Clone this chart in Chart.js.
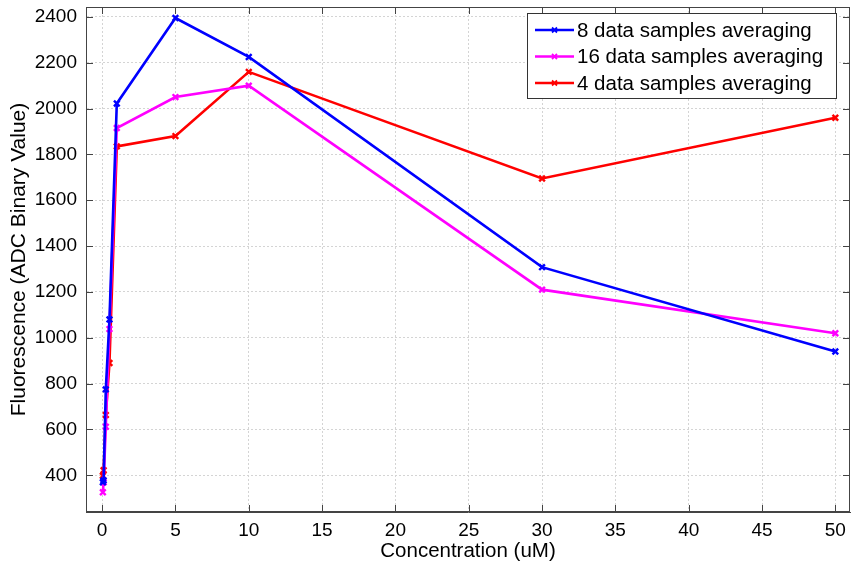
<!DOCTYPE html>
<html><head><meta charset="utf-8">
<script src="https://cdn.jsdelivr.net/npm/chart.js@4"></script>
<style>html,body{margin:0;padding:0;background:#fff}#wrap{width:851px;height:567px}</style>
</head><body><div id="wrap"><canvas id="c" width="851" height="567"></canvas></div>
<script>
const concentrations = [0.05, 0.1, 0.25, 0.5, 1, 5, 10, 30, 50];
const avg8  = [370, 378, 775, 1080, 2022, 2395, 2225, 1308, 940];
const avg16 = [326, 370, 612, 1038, 1915, 2050, 2100, 1210, 1020];
const avg4  = [398, 422, 663, 890, 1835, 1880, 2160, 1695, 1960];
const seriesLabels = ['8 data samples averaging', '16 data samples averaging', '4 data samples averaging'];
const xTicks = [0,5,10,15,20,25,30,35,40,45,50];
const yTicks = [400,600,800,1000,1200,1400,1600,1800,2000,2200,2400];

const mk = (vals) => concentrations.map((x,i)=>({x:x,y:vals[i]}));
const colors = ['#0000ff','#ff00ff','#ff0000'];
const datasets = [avg8, avg16, avg4].map((v,i)=>({
  label: seriesLabels[i], data: mk(v), borderColor: colors[i], backgroundColor: colors[i],
  borderWidth: 2.6, pointStyle: 'crossRot', pointRadius: 4, pointBorderWidth: 2.4, pointHoverRadius: 4,
  tension: 0, fill: false
}));

const FONT = 'Liberation Sans';
const frame = {
  id: 'frame',
  afterDraw(chart) {
    const {ctx, chartArea: a, scales: {x, y}} = chart;
    ctx.save();
    ctx.strokeStyle = '#444'; ctx.lineWidth = 1;
    ctx.strokeRect(a.left+0.5, a.top+0.5, a.right-a.left-1, a.bottom-a.top-1);
    ctx.beginPath();
    xTicks.forEach(v=>{const p=Math.round(x.getPixelForValue(v))+0.5; ctx.moveTo(p,a.bottom); ctx.lineTo(p,a.bottom-7); ctx.moveTo(p,a.top); ctx.lineTo(p,a.top+7);});
    yTicks.forEach(v=>{const p=Math.round(y.getPixelForValue(v))+0.5; ctx.moveTo(a.left,p); ctx.lineTo(a.left+7,p); ctx.moveTo(a.right,p); ctx.lineTo(a.right-7,p);});
    ctx.stroke();
    // legend
    const lx = 527, ly = 13, lw = 309, lh = 85;
    ctx.fillStyle = '#fff'; ctx.fillRect(lx, ly, lw, lh);
    ctx.strokeStyle = '#333'; ctx.lineWidth = 1; ctx.strokeRect(lx+0.5, ly+0.5, lw, lh);
    ctx.font = '20.5px "' + FONT + '"'; ctx.textBaseline = 'middle'; ctx.textAlign = 'left';
    chart.data.datasets.forEach((ds,i)=>{
      const yy = ly + 17 + i*26.5;
      ctx.strokeStyle = ds.borderColor; ctx.lineWidth = 2.6;
      ctx.beginPath(); ctx.moveTo(lx+8, yy); ctx.lineTo(lx+47, yy); ctx.stroke();
      ctx.lineWidth = 1.8; ctx.beginPath();
      ctx.moveTo(lx+25,yy-2.5); ctx.lineTo(lx+30,yy+2.5); ctx.moveTo(lx+25,yy+2.5); ctx.lineTo(lx+30,yy-2.5); ctx.stroke();
      ctx.fillStyle = '#000'; ctx.fillText(ds.label, lx+50, yy+1);
    });
    ctx.restore();
  }
};

new Chart(document.getElementById('c'), {
  type: 'line',
  data: { datasets },
  plugins: [frame],
  options: {
    responsive: false, animation: false, devicePixelRatio: 1,
    layout: { autoPadding: false, padding: { top: 7, right: 1, left: 0, bottom: 0 } },
    plugins: { legend: { display: false }, tooltip: { enabled: false } },
    scales: {
      x: {
        type: 'linear', min: -1.1, max: 51,
        afterBuildTicks: s => { s.ticks = xTicks.map(v=>({value:v})); },
        afterFit: s => { s.height = 55; s.paddingLeft = 0; s.paddingRight = 0; },
        grid: { color: '#d4d4d4', lineWidth: 1, tickLength: 0, drawTicks: false },
        border: { display: true, color: '#444', dash: [2,2] },
        ticks: { color: '#000', font: { family: FONT, size: 19 }, padding: 7, maxRotation: 0, autoSkip: false, callback: v => String(v) },
        title: { display: true, text: 'Concentration (uM)', color: '#000', font: { family: FONT, size: 20.5 }, padding: { top: 0, bottom: 3 } }
      },
      y: {
        type: 'linear', min: 240, max: 2443,
        afterBuildTicks: s => { s.ticks = yTicks.map(v=>({value:v})); },
        afterFit: s => { s.width = 86; s.paddingTop = 0; s.paddingBottom = 0; },
        grid: { color: '#d4d4d4', lineWidth: 1, drawTicks: false },
        border: { display: true, color: '#444', dash: [2,2] },
        ticks: { color: '#000', font: { family: FONT, size: 19 }, padding: 9, autoSkip: false, callback: v => String(v) },
        title: { display: true, text: 'Fluorescence (ADC Binary Value)', color: '#000', font: { family: FONT, size: 21 }, padding: { top: 7, bottom: 0 } }
      }
    }
  }
});
</script>
</body></html>
